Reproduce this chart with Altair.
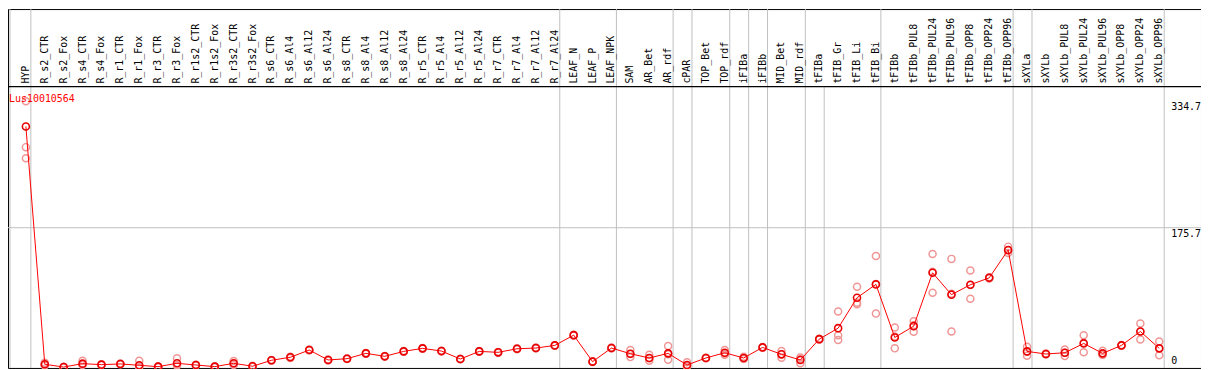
import altair as alt
import pandas as pd

categories = ["HYP", "R_s2_CTR", "R_s2_Fox", "R_s4_CTR", "R_s4_Fox", "R_r1_CTR", "R_r1_Fox",
              "R_r3_CTR", "R_r3_Fox", "R_r1s2_CTR", "R_r1s2_Fox", "R_r3s2_CTR", "R_r3s2_Fox",
              "R_s6_CTR", "R_s6_Al4", "R_s6_Al12", "R_s6_Al24", "R_s8_CTR", "R_s8_Al4", "R_s8_Al12",
              "R_s8_Al24", "R_r5_CTR", "R_r5_Al4", "R_r5_Al12", "R_r5_Al24", "R_r7_CTR", "R_r7_Al4",
              "R_r7_Al12", "R_r7_Al24", "LEAF_N", "LEAF_P", "LEAF_NPK", "SAM", "AR_Bet", "AR_rdf",
              "cPAR", "TOP_Bet", "TOP_rdf", "iFIBa", "iFIBb", "MID_Bet", "MID_rdf", "tFIBa",
              "tFIB_Gr", "tFIB_Li", "tFIB_Bi", "tFIBb", "tFIBb_PUL8", "tFIBb_PUL24", "tFIBb_PUL96",
              "tFIBb_OPP8", "tFIBb_OPP24", "tFIBb_OPP96", "sXYLa", "sXYLb", "sXYLb_PUL8",
              "sXYLb_PUL24", "sXYLb_PUL96", "sXYLb_OPP8", "sXYLb_OPP24", "sXYLb_OPP96"]

mean_values = [303, 4, 0.5, 4.8, 3.5, 4.4, 2.7, 1, 5.2, 3.1, 1, 5.2, 1.5, 9, 12.8, 21.9, 9.4, 11,
               17.7, 14, 20.2, 24, 20.6, 10.6, 20.2, 19, 23.5, 24.4, 27.7, 40.6, 7.3, 24.4, 17.3,
               11.9, 17.7, 3.1, 11.9, 18.5, 11.9, 25.2, 16.5, 9.4, 35.6, 49.4, 87.7, 104.4, 37.7,
               51.9, 119, 91.5, 104, 112.7, 147.7, 20.2, 16.9, 18.5, 30.2, 17.7, 27.7, 45.2, 24]

replicates = [[334.7, 277, 263], [6, 3, 2.5], [1, 0.5, 0], [8.5, 3, 4], [4, 3, 3.5],
              [4.5, 4, 4.8], [8.5, 0.5, 1.5], [1.5, 0.5, 1], [11.5, 3, 2], [3.5, 2.5, 3.2],
              [1.5, 0.5, 1], [8, 4.5, 3], [2, 1, 1.5], [9.5, 8.5, 9], [13.5, 12, 13],
              [22.5, 21.5, 21.8], [10, 9, 9.2], [11.5, 10.5, 11], [18, 17.3, 17.7], [14.5, 13.5, 14],
              [20.6, 19.8, 20.2], [24.5, 23.5, 24], [21, 20.2, 20.6], [11, 10.2, 10.6],
              [20.6, 19.8, 20.2], [19.5, 18.5, 19], [24, 23, 23.5], [25, 24, 24.2],
              [28, 27.4, 27.7], [41, 40.2, 40.6], [7.7, 7, 7.3], [25, 24, 24.2], [22, 13, 17],
              [16, 8.5, 11.5], [27, 9.8, 16.5], [6.5, 1.5, 1.5], [12.3, 11.5, 12], [21.9, 16, 17.5],
              [13.5, 10.5, 11.8], [25.6, 24.8, 25.2], [20.6, 12.3, 16.6], [5.2, 10.5, 12.5],
              [36, 35, 35.6], [70.3, 40.6, 34.4], [101.5, 81.5, 79.4], [140, 67.7, 105],
              [50.2, 24, 39], [58, 44.8, 52.9], [142.7, 94, 120.3], [136.5, 45.2, 92.8],
              [121.9, 86.5, 103.6], [113.5, 112, 112.7], [151.9, 144, 147.2], [26, 14.8, 19.8],
              [17.5, 16.3, 16.9], [22.7, 14.4, 18.4], [40.6, 19, 31], [21, 16, 16.1],
              [28.2, 27.2, 27.7], [55.2, 35.2, 45.2], [32.7, 15.2, 24.1]]

group_separators = [-0.842, 0.263, 28.263, 31.263, 34.263, 35.263, 37.263, 38.263, 39.263,
                    41.263, 45.263, 52.263, 53.263, 60.263]
plot_only_separators = [42.263]
y_tick_values = [334.7, 175.7, 0]
y_tick_labels = ["334.7", "175.7", "0"]
gene_title = "Lus10010564"
header_level = 353.1

FONT = "DejaVu Sans Mono"

main_df = pd.DataFrame({"idx": list(range(len(categories))), "cat": categories, "value": mean_values})
rep_rows = []
for i, reps in enumerate(replicates):
    for r in reps:
        rep_rows.append({"idx": i, "value": r})
rep_df = pd.DataFrame(rep_rows)
sep_df = pd.DataFrame({"pos": group_separators})
sep2_df = pd.DataFrame({"pos": plot_only_separators, "top": [header_level] * len(plot_only_separators),
                        "bottom": [-0.625] * len(plot_only_separators)})
ytick_df = pd.DataFrame({"value": y_tick_values, "label": y_tick_labels})

xs = alt.Scale(domain=[-18 / 19, 1182 / 19], nice=False, zero=False)
ys = alt.Scale(domain=[-0.625, 450.625], nice=False, zero=False)

vsep = alt.Chart(sep_df).mark_rule(color="#c0c0c0", strokeWidth=1).encode(
    x=alt.X("pos:Q", scale=xs, axis=None))
vsep2 = alt.Chart(sep2_df).mark_rule(color="#c0c0c0", strokeWidth=1).encode(
    x=alt.X("pos:Q", scale=xs, axis=None),
    y=alt.Y("top:Q", scale=ys, axis=None), y2="bottom:Q")
hgrid = alt.Chart(ytick_df).transform_filter("datum.value > 0 && datum.value < 300").mark_rule(
    color="#c0c0c0", strokeWidth=1).encode(y=alt.Y("value:Q", scale=ys, axis=None))
header_line = alt.Chart(pd.DataFrame({"v": [header_level]})).mark_rule(
    color="black", strokeWidth=1.2).encode(y=alt.Y("v:Q", scale=ys, axis=None))

rep_pts = alt.Chart(rep_df).mark_point(shape="circle", filled=False, color="#f09595",
                                       size=50, strokeWidth=1.5, opacity=1).encode(
    x=alt.X("idx:Q", scale=xs, axis=None), y=alt.Y("value:Q", scale=ys, axis=None))
line = alt.Chart(main_df).mark_line(color="#ff0000", strokeWidth=1).encode(
    x=alt.X("idx:Q", scale=xs, axis=None), y=alt.Y("value:Q", scale=ys, axis=None))
main_pts = alt.Chart(main_df).mark_point(shape="circle", filled=False, color="#e80000",
                                         size=50, strokeWidth=1.6, opacity=1).encode(
    x=alt.X("idx:Q", scale=xs, axis=None), y=alt.Y("value:Q", scale=ys, axis=None))

header_text = alt.Chart(main_df).mark_text(angle=270, align="left", baseline="middle",
                                           font=FONT, fontSize=10, color="black").encode(
    x=alt.X("idx:Q", scale=xs, axis=None), y=alt.value(75), text="cat:N")

ytext_top = alt.Chart(ytick_df).transform_filter("datum.value > 0").mark_text(
    align="left", baseline="top", font=FONT, fontSize=10, color="black", dy=1).encode(
    x=alt.value(1170), y=alt.Y("value:Q", scale=ys, axis=None), text="label:N")
ytext_zero = alt.Chart(ytick_df).transform_filter("datum.value == 0").mark_text(
    align="left", baseline="bottom", font=FONT, fontSize=10, color="black", dy=-1).encode(
    x=alt.value(1170), y=alt.Y("value:Q", scale=ys, axis=None), text="label:N")

title = alt.Chart(pd.DataFrame({"t": [gene_title]})).mark_text(
    align="left", baseline="alphabetic", font=FONT, fontSize=10, color="#ff0000").encode(
    x=alt.value(1), y=alt.value(93), text="t:N")

chart = alt.layer(vsep, vsep2, hgrid, header_line, rep_pts, line, main_pts,
                  header_text, ytext_top, ytext_zero, title).properties(
    width=1200, height=361, padding=0, autosize="none"
).configure_view(stroke="black", strokeWidth=1)

chart.save("out.html", embed_options={"renderer": "svg", "actions": False})
